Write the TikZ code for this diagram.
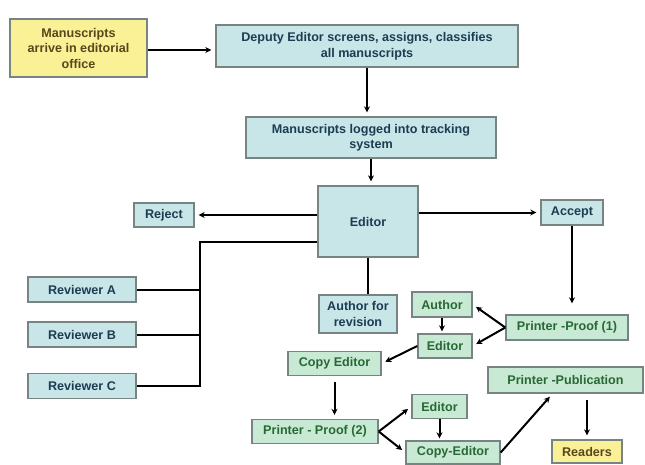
\documentclass[tikz,border=0pt]{standalone}
\usepackage{fontspec}
\setmainfont{Liberation Sans}
\usepackage{xcolor}
\definecolor{boxblue}{RGB}{200, 230, 232}
\definecolor{boxgreen}{RGB}{200, 234, 212}
\definecolor{boxyellow}{RGB}{250, 240, 150}
\definecolor{textblue}{RGB}{28, 60, 82}
\definecolor{textgreen}{RGB}{40, 104, 52}
\definecolor{textyellow}{RGB}{86, 72, 28}
\definecolor{boxedge}{RGB}{120, 132, 130}
\usetikzlibrary{arrows.meta, positioning, calc}

\begin{document}
\begin{tikzpicture}[x=1pt, y=-1pt, >={Stealth[length=6pt, width=6pt]},
    stage/.style={draw=boxedge, line width=1.4pt, inner sep=0pt, align=center,
        font=\fontsize{12.6}{15.5}\selectfont\bfseries},
    bluebox/.style={stage, fill=boxblue, text=textblue},
    greenbox/.style={stage, fill=boxgreen, text=textgreen},
    yellowbox/.style={stage, fill=boxyellow, text=textyellow},
    wire/.style={line width=2pt},
    flow/.style={wire, ->, shorten >=4pt}]
    \useasboundingbox (0,0) rectangle (645,464);

    \node[yellowbox, minimum width=137pt, minimum height=58pt] (ms) at (78.5,48) {Manuscripts\\arrive in editorial\\office};
    \node[bluebox, minimum width=302pt, minimum height=42pt] (dep) at (367,46) {Deputy Editor screens, assigns, classifies\\all manuscripts};
    \node[bluebox, minimum width=250pt, minimum height=41pt] (log) at (371,137.5) {Manuscripts logged into tracking\\system};
    \node[bluebox, minimum width=100pt, minimum height=71pt] (ed) at (368,221.5) {Editor};
    \node[bluebox, minimum width=60pt, minimum height=24pt] (rej) at (164,215) {Reject};
    \node[bluebox, minimum width=62pt, minimum height=25pt] (acc) at (572,212.5) {Accept};

    \node[bluebox, minimum width=108pt, minimum height=25pt] (revA) at (82,289.5) {Reviewer A};
    \node[bluebox, minimum width=108pt, minimum height=25pt] (revB) at (82,334.5) {Reviewer B};
    \node[bluebox, minimum width=108pt, minimum height=25pt] (revC) at (82,386) {Reviewer C};
    \node[bluebox, minimum width=78pt, minimum height=38pt] (afr) at (358,314) {Author for\\revision};

    \node[greenbox, minimum width=60pt, minimum height=25pt] (au) at (442,304.5) {Author};
    \node[greenbox, minimum width=54pt, minimum height=24pt] (ed1) at (445,346) {Editor};
    \node[greenbox, minimum width=122pt, minimum height=25pt] (pp1) at (567,327.5) {Printer -Proof (1)};
    \node[greenbox, minimum width=93pt, minimum height=24pt] (ce) at (334.5,363.5) {Copy Editor};
    \node[greenbox, minimum width=126pt, minimum height=24pt] (pp2) at (315,431.5) {Printer - Proof (2)};
    \node[greenbox, minimum width=55pt, minimum height=24pt] (ed2) at (439.5,406.5) {Editor};
    \node[greenbox, minimum width=94pt, minimum height=23pt] (ce2) at (453,452.5) {Copy-Editor};
    \node[greenbox, minimum width=155pt, minimum height=26pt] (ppub) at (565.5,380) {Printer -Publication};
    \node[yellowbox, minimum width=70pt, minimum height=23pt] (rd) at (587,451.5) {Readers};

    \coordinate (fork) at (200,242);

    \draw[flow] (ms.east |- 0,50) -- (dep.west |- 0,50);
    \draw[flow] (dep.south) -- (dep.south |- log.north);
    \draw[flow] (log.south) -- (log.south |- ed.north);
    \draw[flow] (ed.west |- rej.east) -- (rej.east);
    \draw[flow] (ed.east |- acc.west) -- (acc.west);
    \draw[wire] (ed.west |- fork) -- (fork) -- (fork |- revC.east) -- (revC.east);
    \draw[wire] (revA.east) -- (revA.east -| fork);
    \draw[wire] (revB.east) -- (revB.east -| fork);
    \draw[wire] (ed.south) -- (ed.south |- afr.north);

    \draw[flow, shorten >=11pt] (acc.south) -- (acc.south |- pp1.north);
    \draw[flow] (pp1.west) -- (au.east);
    \draw[flow] (pp1.west) -- (ed1.east);
    \draw[flow, shorten >=2pt] (au.south) -- (au.south |- ed1.north);
    \draw[flow] (ed1.west) -- (ce.east);
    \draw[flow, shorten <=6pt] (ce.south) -- (ce.south |- pp2.north);
    \draw[flow] (pp2.east) -- (ed2.west);
    \draw[flow] (pp2.east) -- (ce2.west);
    \draw[flow, shorten >=2pt] (ed2.south) -- (ed2.south |- ce2.north);
    \draw[flow] (ce2.east) -- ([xshift=-13pt]ppub.south);
    \draw[flow, shorten <=6pt] (rd.north |- ppub.south) -- (rd.north);
\end{tikzpicture}
\end{document}
